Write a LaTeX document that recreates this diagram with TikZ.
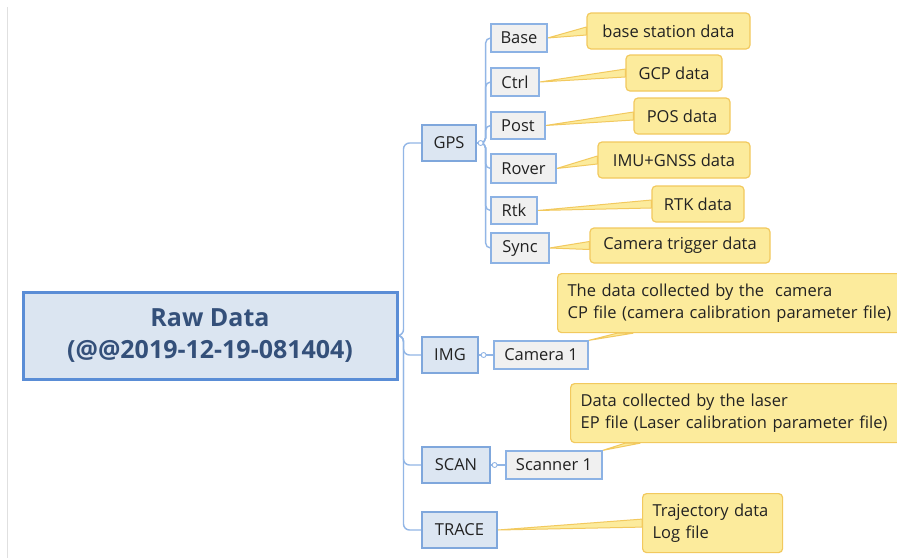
\documentclass[tikz,border=0pt]{standalone}
\usepackage{fontspec}
\setmainfont{Open Sans}
\usetikzlibrary{calc,backgrounds}
\definecolor{rootfill}{HTML}{DBE5F1}
\definecolor{rootdraw}{HTML}{5A8DD6}
\definecolor{roottext}{HTML}{34507A}
\definecolor{midfill}{HTML}{DCE6F2}
\definecolor{middraw}{HTML}{7FA7DC}
\definecolor{leaffill}{HTML}{F0F0F0}
\definecolor{leafdraw}{HTML}{8CB2E4}
\definecolor{conncol}{HTML}{92B6E6}
\definecolor{yfill}{HTML}{FCEB9C}
\definecolor{ydraw}{HTML}{F2C95E}
\definecolor{txt}{HTML}{222222}
\definecolor{edgegray}{HTML}{E0E0E0}
\tikzset{
  rootbox/.style={draw=rootdraw, line width=3pt, fill=rootfill, text=roottext, align=center,
    font=\fontsize{25}{32}\selectfont\bfseries, inner sep=0pt},
  midbox/.style={draw=middraw, line width=1.2pt, fill=midfill, text=txt, inner sep=0pt,
    font=\fontsize{16.5}{20}\selectfont},
  leafbox/.style={draw=leafdraw, line width=1.2pt, fill=leaffill, text=txt, inner sep=0pt,
    font=\fontsize{16.5}{20}\selectfont},
  callbox/.style={draw=ydraw, line width=1.2pt, fill=yfill, text=txt, rounded corners=4pt,
    inner sep=0pt, font=\fontsize{16.5}{22}\selectfont},
  multicall/.style={callbox, anchor=north west, align=left, inner xsep=10pt},
  conn/.style={draw=conncol, line width=1.4pt, rounded corners=6pt},
  wedge/.style={fill=yfill, draw=ydraw, line width=1pt, line join=round},
  knob/.style={draw=conncol, fill=white, line width=0.9pt}
}
\begin{document}
\begin{tikzpicture}[x=1pt,y=-1pt]
\useasboundingbox (0,0) rectangle (897,558);

% root and main branches
\node[rootbox, minimum width=374pt, minimum height=87pt] (root) at (210,335.5) {Raw Data\\(@@2019-12-19-081404)};
\node[midbox, minimum width=54pt, minimum height=36pt] (gps) at (449,143) {GPS};
\node[midbox, minimum width=56pt, minimum height=36pt] (img) at (450,355) {IMG};
\node[midbox, minimum width=68pt, minimum height=36pt] (scan) at (456,465) {SCAN};
\node[midbox, minimum width=75pt, minimum height=36pt] (trace) at (459.5,530) {TRACE};

% GPS leaves
\node[leafbox, minimum width=56pt, minimum height=28pt] (base) at (519,38) {Base};
\node[leafbox, minimum width=48pt, minimum height=28pt] (ctrl) at (515,82) {Ctrl};
\node[leafbox, minimum width=54pt, minimum height=27pt] (post) at (518,125.5) {Post};
\node[leafbox, minimum width=65pt, minimum height=29pt] (rover) at (523.5,168.5) {Rover};
\node[leafbox, minimum width=46pt, minimum height=27pt] (rtk) at (514,210.5) {Rtk};
\node[leafbox, minimum width=58pt, minimum height=30pt] (sync) at (520,248) {Sync};
\node[leafbox, minimum width=94pt, minimum height=28pt] (cam) at (541,355) {Camera 1};
\node[leafbox, minimum width=96pt, minimum height=28pt] (scanner) at (554,465) {Scanner 1};

% callouts
\node[callbox, minimum width=163pt, minimum height=36pt] (cbase) at (668.5,31) {base station data};
\node[callbox, minimum width=96pt, minimum height=36pt] (cctrl) at (674,73) {GCP data};
\node[callbox, minimum width=96pt, minimum height=36pt] (cpost) at (682,116) {POS data};
\node[callbox, minimum width=152pt, minimum height=36pt] (crover) at (674,160) {IMU+GNSS data};
\node[callbox, minimum width=92pt, minimum height=36pt] (crtk) at (698,204) {RTK data};
\node[callbox, minimum width=180pt, minimum height=35pt] (csync) at (680,245.5) {Camera trigger data};
\node[multicall, text width=335pt, minimum height=59pt] (ccam) at (557,273) {The data collected by the\ \ camera\\CP file (camera calibration parameter file)};
\node[multicall, text width=335pt, minimum height=59pt] (cscan) at (570,383) {Data collected by the laser\\EP file (Laser calibration parameter file)};
\node[multicall, text width=120pt, minimum height=59pt] (ctrace) at (642,493) {Trajectory data\\Log file};

\begin{scope}[on background layer]
  \fill[white] (0,0) rectangle (897,558);
  \draw[edgegray, line width=1pt] (7,7) -- (7,558);
  % connectors
  \draw[conn] (root.east) -- ++(5,0) |- (gps.west);
  \draw[conn] (root.east) -- ++(5,0) |- (img.west);
  \draw[conn] (root.east) -- ++(5,0) |- (scan.west);
  \draw[conn] (root.east) -- ++(5,0) |- (trace.west);
  \foreach \leaf in {base,ctrl,post,rover,rtk,sync}
    \draw[conn, rounded corners=5pt] (gps.east) -- ++(9,0) |- (\leaf.west);
  \draw[conn] (img.east) -- (cam.west);
  \draw[conn] (scan.east) -- (scanner.west);
  % wedges
  \foreach \a/\b in {base/cbase,ctrl/cctrl,post/cpost,rover/crover,rtk/crtk,sync/csync,trace/ctrace}
    \filldraw[wedge] (\a.east) -- ($(\b.west)+(0,-4)$) -- ($(\b.west)+(0,4)$) -- cycle;
  \filldraw[wedge] (cam.north east) -- ($(ccam.south west)+(60,0)$) -- ($(ccam.south west)+(76,0)$) -- cycle;
  \filldraw[wedge] (scanner.north east) -- ($(cscan.south west)+(55,0)$) -- ($(cscan.south west)+(70,0)$) -- cycle;
\end{scope}

% collapse knobs
\coordinate (kgps) at ($(gps.east)+(4,0)$);
\coordinate (kimg) at ($(img.east)+(5,0)$);
\coordinate (kscan) at ($(scan.east)+(4,0)$);
\draw[knob] (kgps) circle (2.5pt);
\draw[knob] (kimg) circle (2.5pt);
\draw[knob] (kscan) circle (2.5pt);
\end{tikzpicture}
\end{document}
